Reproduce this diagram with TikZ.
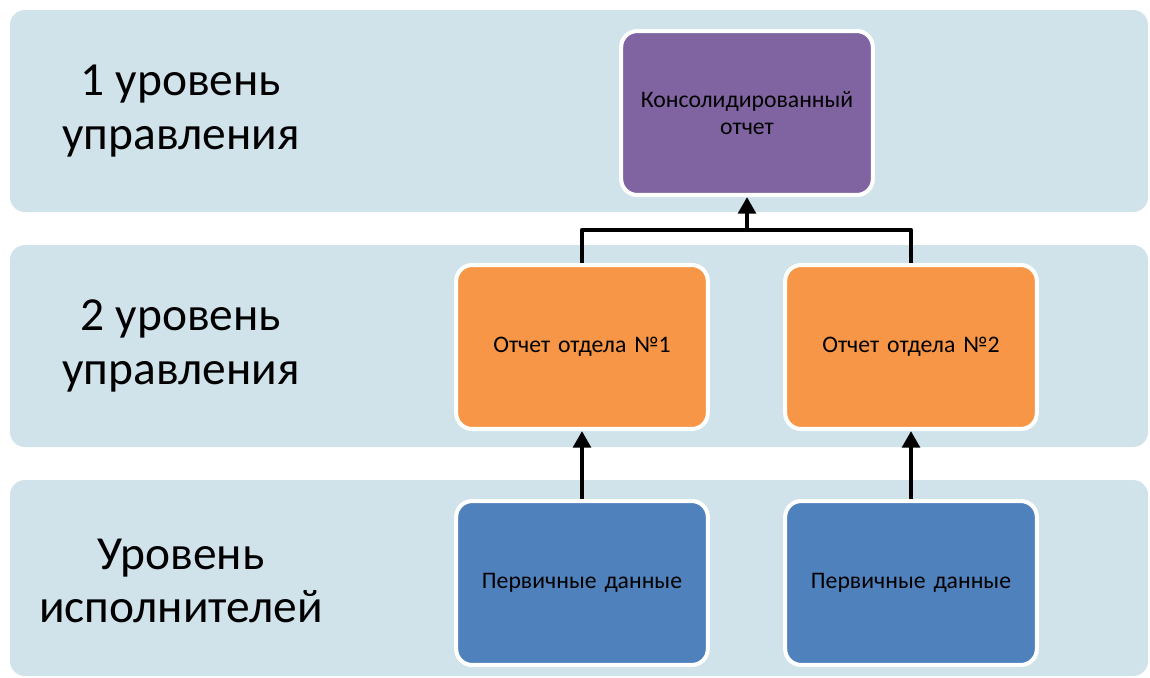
\documentclass[tikz,border=0pt]{standalone}
\usepackage{fontspec}
\setmainfont{Carlito}
\usetikzlibrary{arrows.meta}
\definecolor{bandblue}{HTML}{D0E2EA}
\definecolor{toppurple}{HTML}{8064A2}
\definecolor{midorange}{HTML}{F79646}
\definecolor{lowblue}{HTML}{4F81BD}
\tikzset{
  band/.style={fill=bandblue, rounded corners=0.3cm},
  level/.style={align=center, font=\fontsize{27}{30.5}\selectfont},
  unit/.style={draw=white, line width=2.3pt, rounded corners=0.32cm,
    minimum width=5.02cm, minimum height=3.28cm, align=center,
    font=\fontsize{13.5}{15.5}\selectfont, text width=4.8cm},
  link/.style={line width=2.7pt, line join=round},
}
\begin{document}
\begin{tikzpicture}[x=0.02cm, y=-0.02cm]
            \useasboundingbox (0,0) rectangle (1150,677);
            \fill[band] (10,10) rectangle (1148,212);
            \fill[band] (10,245) rectangle (1148,447);
            \fill[band] (10,480) rectangle (1148,676);
            \node[level] (l1) at (181,111) {1 уровень\\управления};
            \node[level] (l2) at (181,346) {2 уровень\\управления};
            \node[level] (l3) at (181,581) {Уровень\\исполнителей};
            \node[unit, fill=toppurple] (top) at (747,113) {Консолидированный\\отчет};
            \node[unit, fill=midorange] (dep1) at (582,347) {Отчет отдела №1};
            \node[unit, fill=midorange] (dep2) at (911,347) {Отчет отдела №2};
            \node[unit, fill=lowblue] (src1) at (582,583) {Первичные данные};
            \node[unit, fill=lowblue] (src2) at (911,583) {Первичные данные};
            \coordinate (join) at (747,230);
            \draw[link] (dep1.north) |- (join) -| (dep2.north);
            \draw[link, -{Triangle[width=10pt,length=9.5pt]}] (join) -- (top.south);
            \draw[link, -{Triangle[width=10pt,length=9.5pt]}] (src1.north) -- (dep1.south);
            \draw[link, -{Triangle[width=10pt,length=9.5pt]}] (src2.north) -- (dep2.south);
        \end{tikzpicture}
\end{document}
